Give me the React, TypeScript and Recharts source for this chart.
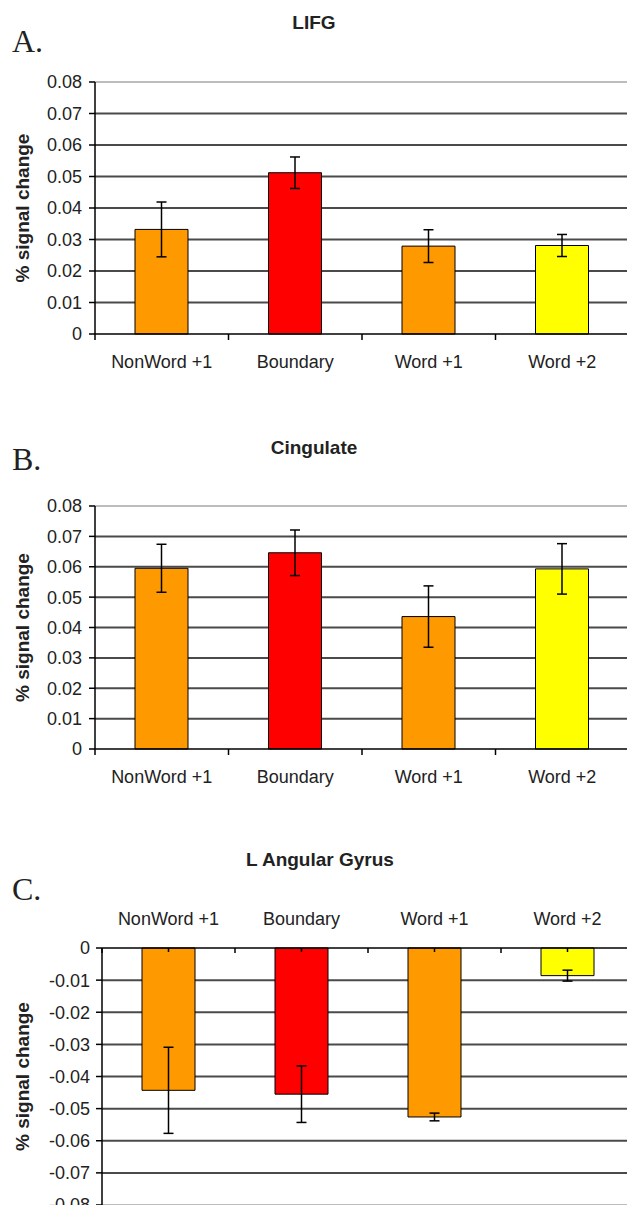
import { BarChart, Bar, XAxis, YAxis, CartesianGrid, ReferenceLine, ErrorBar, Cell } from 'recharts';

const categories = ['NonWord +1', 'Boundary', 'Word +1', 'Word +2'];
const barColors = ['#ff9900', '#ff0000', '#ff9900', '#ffff00'];

const lifgMeans = [0.0332, 0.0512, 0.0279, 0.0281];
const lifgErrors = [0.0087, 0.005, 0.0052, 0.0035];

const cingulateMeans = [0.0595, 0.0646, 0.0436, 0.0593];
const cingulateErrors = [0.0079, 0.0075, 0.0101, 0.0083];

const angularMeans = [-0.0443, -0.0455, -0.0526, -0.0086];
const angularErrors = [0.0134, 0.0088, 0.0012, 0.0017];

const positiveTicks = [0, 0.01, 0.02, 0.03, 0.04, 0.05, 0.06, 0.07, 0.08];
const negativeTicks = [-0.08, -0.07, -0.06, -0.05, -0.04, -0.03, -0.02, -0.01, 0];

const FONT = '"Liberation Sans", Arial, sans-serif';
const GRID = '#4a4a4a';

// distance between the category axis line and the label anchor
const BOTTOM_GAP = 21;
const TOP_GAP = 23;

const fmt = (v: number) => (v === 0 ? '0' : v.toFixed(2));

interface PanelProps {
  means: number[];
  errors: number[];
  ticks: number[];
  top: number;
  height: number;
  marginTop: number;
  marginRight: number;
  axisWidth: number;
  tickMargin: number;
  negative?: boolean;
}

function AxisTitle(props: any) {
  const vb = props.viewBox || {};
  const cx = (vb.x || 0) + 22;
  const cy = (vb.y || 0) + (vb.height || 0) / 2;
  return (
    <text
      x={cx}
      y={cy}
      transform={`rotate(-90, ${cx}, ${cy})`}
      textAnchor="middle"
      dominantBaseline="central"
      fontFamily={FONT}
      fontSize={19}
      fontWeight="bold"
      fill="#222"
    >
      % signal change
    </text>
  );
}

// category label plus the small tick marks Excel puts between categories
function CategoryTick(props: any) {
  const { x, y, payload, index, width, visibleTicksCount, negative } = props;
  const band = width && visibleTicksCount ? width / visibleTicksCount : 0;
  const axisY = negative ? y + TOP_GAP : y - BOTTOM_GAP;
  const len = negative ? 5 : 6;
  const edges = [x + band / 2];
  if (index === 0) edges.push(x - band / 2);
  return (
    <g>
      {band > 0 &&
        edges.map((ex) => (
          <line key={ex} x1={ex} x2={ex} y1={axisY} y2={axisY + len} stroke="#000" strokeWidth={1.5} />
        ))}
      <text
        x={x}
        y={y}
        dy={negative ? 0 : '0.71em'}
        textAnchor="middle"
        fontFamily={FONT}
        fontSize={18}
        fill="#222"
      >
        {payload.value}
      </text>
    </g>
  );
}

function Panel({ means, errors, ticks, top, height, marginTop, marginRight, axisWidth, tickMargin, negative }: PanelProps) {
  const data = categories.map((name, i) => ({ name, value: means[i], err: errors[i] }));
  const far = negative ? ticks[0] : ticks[ticks.length - 1];
  const inner = ticks.filter((t) => t !== 0 && t !== far);

  return (
    <div style={{ position: 'absolute', left: 0, top }}>
      <BarChart
        width={640}
        height={height}
        data={data}
        margin={{ top: marginTop, right: marginRight, left: 0, bottom: 0 }}
      >
        <CartesianGrid vertical={false} horizontalValues={inner} stroke={GRID} strokeWidth={2} />
        <ReferenceLine y={far} stroke="#bdbdbd" strokeWidth={2} />
        <XAxis
          dataKey="name"
          orientation={negative ? 'top' : 'bottom'}
          interval={0}
          height={negative ? 40 : 45}
          axisLine={{ stroke: '#000', strokeWidth: 1.5 }}
          tickLine={negative ? { stroke: '#000', strokeWidth: 1.5 } : false}
          tickSize={negative ? -4 : 0}
          tickMargin={negative ? TOP_GAP + 4 : BOTTOM_GAP}
          tick={(p: any) => <CategoryTick {...p} negative={negative} />}
        />
        <YAxis
          domain={[ticks[0], ticks[ticks.length - 1]]}
          ticks={ticks}
          interval={0}
          width={axisWidth}
          tickFormatter={fmt}
          axisLine={{ stroke: '#000', strokeWidth: 1.5 }}
          tickLine={{ stroke: '#000', strokeWidth: 1.5 }}
          tickSize={6}
          tickMargin={tickMargin}
          tick={{ fontSize: 18, fill: '#222', fontFamily: FONT }}
          label={{ content: AxisTitle }}
        />
        <Bar dataKey="value" barSize={53} isAnimationActive={false}>
          {data.map((d, i) => (
            <Cell key={d.name} fill={barColors[i]} stroke="#000" strokeWidth={1} />
          ))}
          <ErrorBar dataKey="err" width={5} stroke="#000" strokeWidth={1.5} direction="y" isAnimationActive={false} />
        </Bar>
      </BarChart>
    </div>
  );
}

const titleStyle = {
  position: 'absolute' as const,
  width: 300,
  textAlign: 'center' as const,
  fontFamily: FONT,
  fontWeight: 'bold' as const,
  fontSize: 19,
  lineHeight: '19px',
  color: '#222',
};

const letterStyle = {
  position: 'absolute' as const,
  left: 12,
  fontFamily: '"Liberation Serif", "Times New Roman", serif',
  fontSize: 32,
  lineHeight: '32px',
  color: '#222',
};

export default function App() {
  return (
    <div style={{ position: 'absolute', left: 0, top: 0, width: 627, height: 1205, overflow: 'hidden', background: '#fff' }}>
      <div style={{ ...titleStyle, left: 314 - 150, top: 13 }}>LIFG</div>
      <div style={{ ...letterStyle, top: 25 }}>A.</div>
      <Panel
        means={lifgMeans}
        errors={lifgErrors}
        ticks={positiveTicks}
        top={0}
        height={82 + 252 + 45}
        marginTop={82}
        marginRight={11}
        axisWidth={95}
        tickMargin={7}
      />

      <div style={{ ...titleStyle, left: 314 - 150, top: 438 }}>Cingulate</div>
      <div style={{ ...letterStyle, top: 443 }}>B.</div>
      <Panel
        means={cingulateMeans}
        errors={cingulateErrors}
        ticks={positiveTicks}
        top={420}
        height={86 + 243 + 45}
        marginTop={86}
        marginRight={11}
        axisWidth={95}
        tickMargin={7}
      />

      <div style={{ ...titleStyle, left: 320 - 150, top: 850 }}>L Angular Gyrus</div>
      <div style={{ ...letterStyle, top: 873 }}>C.</div>
      <Panel
        means={angularMeans}
        errors={angularErrors}
        ticks={negativeTicks}
        top={820}
        height={128 + 250 + 7}
        marginTop={88}
        marginRight={6}
        axisWidth={102}
        tickMargin={6}
        negative
      />
    </div>
  );
}
